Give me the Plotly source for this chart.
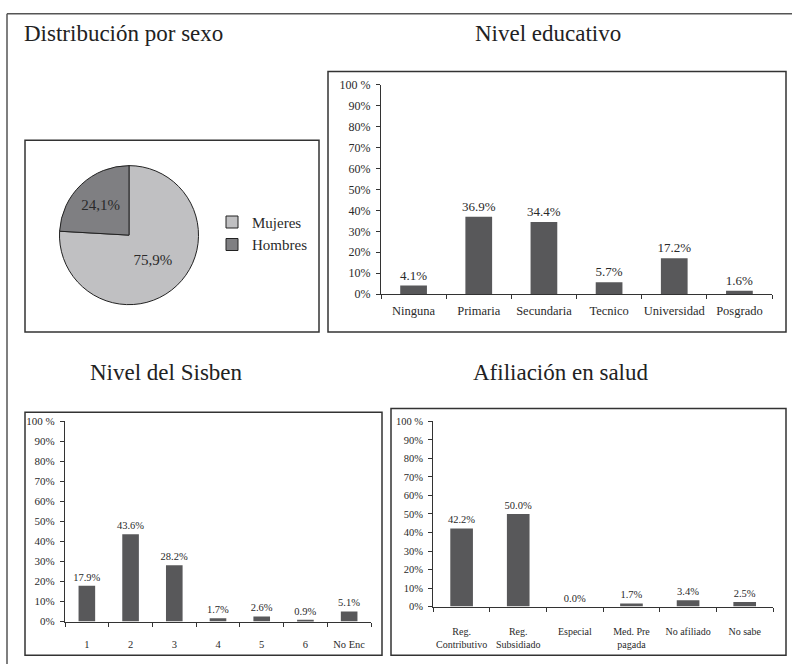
import plotly.graph_objects as go

W, H = 792, 671
FONT = "Liberation Serif"
BAR_COLOR = "#58585a"
AX_COLOR = "#333333"
TXT_COLOR = "#2a2a2a"

# ---------------- data ----------------
sexo_labels = ["Mujeres", "Hombres"]
sexo_values = [75.9, 24.1]
sexo_colors = ["#c0c0c2", "#7f7f82"]

edu_cats = ["Ninguna", "Primaria", "Secundaria", "Tecnico", "Universidad", "Posgrado"]
edu_vals = [4.1, 36.9, 34.4, 5.7, 17.2, 1.6]

sisben_cats = ["1", "2", "3", "4", "5", "6", "No Enc"]
sisben_vals = [17.9, 43.6, 28.2, 1.7, 2.6, 0.9, 5.1]

salud_cats = ["Reg.<br>Contributivo", "Reg.<br>Subsidiado", "Especial",
              "Med. Pre<br>pagada", "No afiliado", "No sabe"]
salud_vals = [42.2, 50.0, 0.0, 1.7, 3.4, 2.5]

pct_ticks = [0, 10, 20, 30, 40, 50, 60, 70, 80, 90, 100]
pct_ticktext = ["0%", "10%", "20%", "30%", "40%", "50%", "60%", "70%", "80%", "90%", "100 %"]

titles = ["Distribución por sexo", "Nivel educativo", "Nivel del Sisben", "Afiliación en salud"]


def xd(a, b):
    return [a / W, b / W]


def yd(top, bottom):
    return [1 - bottom / H, 1 - top / H]


fig = go.Figure()

# ---------------- pie ----------------
fig.add_trace(go.Pie(
    labels=sexo_labels, values=sexo_values, sort=False, direction="clockwise", rotation=0,
    marker=dict(colors=sexo_colors, line=dict(color="#222222", width=1)),
    text=[f"{v:.1f}%".replace(".", ",") for v in sexo_values],
    textinfo="text", textposition="inside", insidetextorientation="horizontal",
    textfont=dict(family=FONT, size=15, color=TXT_COLOR),
    domain=dict(x=xd(58, 200), y=yd(162, 304)),
    hoverinfo="skip", showlegend=True,
))


def add_bars(cats, vals, xa, ya, width, tsize):
    fig.add_trace(go.Bar(
        x=list(range(len(cats))), y=vals, width=width,
        marker=dict(color=BAR_COLOR, line=dict(width=0)),
        text=[f"{v:.1f}%" for v in vals], textposition="outside", constraintext="none",
        textfont=dict(family=FONT, size=tsize, color=TXT_COLOR),
        cliponaxis=False, xaxis=xa, yaxis=ya, showlegend=False, hoverinfo="skip",
    ))


add_bars(edu_cats, edu_vals, "x", "y", 0.41, 13)
add_bars(sisben_cats, sisben_vals, "x2", "y2", 0.38, 10.5)
add_bars(salud_cats, salud_vals, "x3", "y3", 0.40, 10.5)


def xaxis_cfg(cats, dom, fsize, standoff):
    n = len(cats)
    return dict(
        domain=dom, range=[-0.5, n - 0.5], showgrid=False, zeroline=False,
        showline=True, linecolor=AX_COLOR, linewidth=1.2,
        tickmode="array", tickvals=list(range(n)), ticktext=cats, ticks="",
        ticklabelstandoff=standoff,
        tickfont=dict(family=FONT, size=fsize, color=TXT_COLOR),
        minor=dict(tickmode="array", tickvals=[i - 0.5 for i in range(n + 1)],
                   ticks="outside", ticklen=4, tickwidth=1.2, tickcolor=AX_COLOR),
        fixedrange=True,
    )


def yaxis_cfg(dom, fsize, anchor):
    return dict(
        domain=dom, range=[0, 100], showgrid=False, zeroline=False,
        showline=True, linecolor=AX_COLOR, linewidth=1.2,
        tickmode="array", tickvals=pct_ticks, ticktext=pct_ticktext,
        ticks="outside", ticklen=4, tickwidth=1.2, tickcolor=AX_COLOR,
        ticklabelstandoff=3,
        tickfont=dict(family=FONT, size=fsize, color=TXT_COLOR),
        anchor=anchor, fixedrange=True,
    )


fig.update_layout(
    width=W, height=H, margin=dict(l=0, r=0, t=0, b=0),
    paper_bgcolor="white", plot_bgcolor="rgba(0,0,0,0)",
    font=dict(family=FONT, color=TXT_COLOR),
    xaxis=dict(**xaxis_cfg(edu_cats, xd(381, 772), 12.5, 5), anchor="y"),
    yaxis=yaxis_cfg(yd(79.3, 293.3), 12, "x"),
    xaxis2=dict(**xaxis_cfg(sisben_cats, xd(65, 371), 10.5, 13), anchor="y2"),
    yaxis2=yaxis_cfg(yd(423.3, 627.7), 11, "x2"),
    xaxis3=dict(**xaxis_cfg(salud_cats, xd(433.3, 773), 10, 15), anchor="y3"),
    yaxis3=yaxis_cfg(yd(423.3, 612.3), 10.5, "x3"),
    legend=dict(x=212 / W, y=1 - 203 / H, xanchor="left", yanchor="top",
                font=dict(family=FONT, size=15, color=TXT_COLOR),
                bgcolor="rgba(0,0,0,0)", itemclick=False, itemdoubleclick=False),
    showlegend=True,
)

# ---------------- titles ----------------
title_pos = [(22, 27, "left"), (548, 27, "center"), (166, 373, "center"), (561, 373, "center")]
for t, (x, y, anc) in zip(titles, title_pos):
    fig.add_annotation(text=t, x=x / W, y=1 - y / H, xref="paper", yref="paper",
                       xanchor=anc, yanchor="middle", showarrow=False,
                       font=dict(family=FONT, size=23, color="#222222"))

# ---------------- frames ----------------
boxes = [(25, 136, 319, 332), (328, 66, 786, 332), (25, 414, 382, 662), (391, 410, 786, 662)]
for (x0, y0, x1, y1) in boxes:
    fig.add_shape(type="rect", xref="paper", yref="paper",
                  x0=x0 / W, x1=x1 / W, y0=1 - y0 / H, y1=1 - y1 / H,
                  line=dict(color="#333333", width=1.5), fillcolor="rgba(0,0,0,0)")
fig.add_shape(type="line", xref="paper", yref="paper", x0=7 / W, x1=1, y0=1 - 7 / H, y1=1 - 7 / H,
              line=dict(color="#555555", width=1.5))
fig.add_shape(type="line", xref="paper", yref="paper", x0=7 / W, x1=7 / W, y0=1 - 7 / H, y1=0,
              line=dict(color="#555555", width=1.5))

fig.write_html("out.html")
